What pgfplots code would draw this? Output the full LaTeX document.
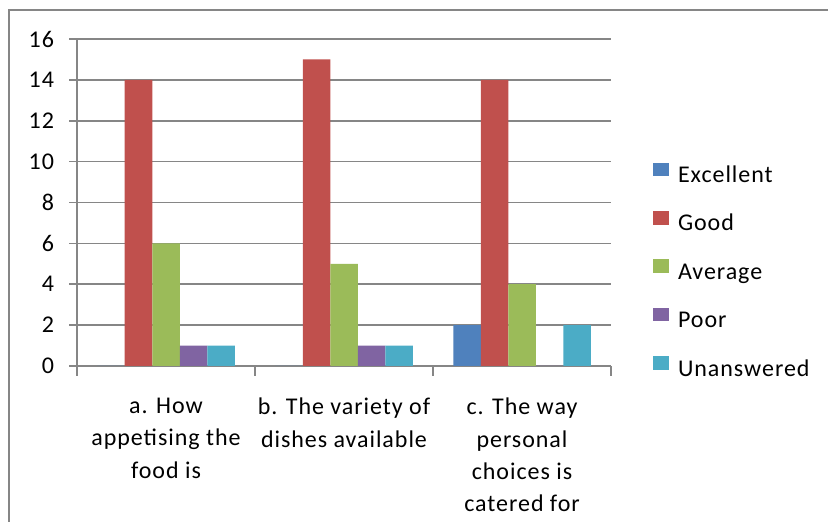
\documentclass[border=0pt]{standalone}
\usepackage{pgfplots}
\pgfplotsset{compat=1.18}
\usepackage{fontspec}
\setmainfont{Carlito}[LetterSpace=4]
\definecolor{cExc}{HTML}{4F81BD}
\definecolor{cGood}{HTML}{C0504D}
\definecolor{cAvg}{HTML}{9BBB59}
\definecolor{cPoor}{HTML}{8064A2}
\definecolor{cUna}{HTML}{4BACC6}
\definecolor{gridc}{RGB}{134,134,134}
\begin{document}
\begin{tikzpicture}
\useasboundingbox (-38.5pt,-78pt) rectangle (375.5pt,183pt);
\draw[gridc, line width=1pt] (-34pt,-78pt) -- (-34pt,178pt) -- (375.5pt,178pt);
\begin{axis}[
  at={(0,0)}, anchor=south west,
  scale only axis, width=267pt, height=163.5pt,
  font=\fontsize{12}{16.2}\selectfont,
  /pgf/number format/assume math mode=true,
  ybar=0pt, bar width=0.1545,
  xmin=-0.5, xmax=2.5, ymin=0, ymax=16,
  ytick={0,2,...,16},
  xtick={0,1,2},
  xticklabels={a. How\\appetising the\\food is, b. The variety of\\dishes available, c. The way\\personal\\choices is\\catered for},
  minor xtick={-0.5,0.5,1.5,2.5},
  major x tick style={draw=none},
  minor tick length=5pt,
  major tick length=4pt,
  tick align=outside,
  axis x line*=bottom, axis y line*=left,
  axis line style={gridc, line width=0.8pt},
  every tick/.style={gridc, line width=0.8pt},
  ymajorgrids, major grid style={gridc, line width=0.8pt},
  xticklabel style={align=center, anchor=north, yshift=-8.5pt, font=\fontsize{12}{16.2}\selectfont},
  yticklabel style={anchor=east, xshift=-4pt},
  legend style={at={(1.0787,0.623)}, anchor=north west, draw=none, inner sep=0pt,
    row sep=11.3pt, column sep=4.5pt,
    nodes={inner sep=0pt, anchor=west, text height=8pt, text depth=3pt},
    font=\fontsize{12}{13}\selectfont},
  legend image code/.code={\fill[#1] (0pt,0.6pt) rectangle (7.8pt,7.4pt);},
  legend cell align=left,
]
\addplot[fill=cExc, draw=none] coordinates {(0,0) (1,0) (2,2)};
\addplot[fill=cGood, draw=none] coordinates {(0,14) (1,15) (2,14)};
\addplot[fill=cAvg, draw=none] coordinates {(0,6) (1,5) (2,4)};
\addplot[fill=cPoor, draw=none] coordinates {(0,1) (1,1) (2,0)};
\addplot[fill=cUna, draw=none] coordinates {(0,1) (1,1) (2,2)};
\legend{Excellent, Good, Average, Poor, Unanswered}
\end{axis}
\end{tikzpicture}
\end{document}
